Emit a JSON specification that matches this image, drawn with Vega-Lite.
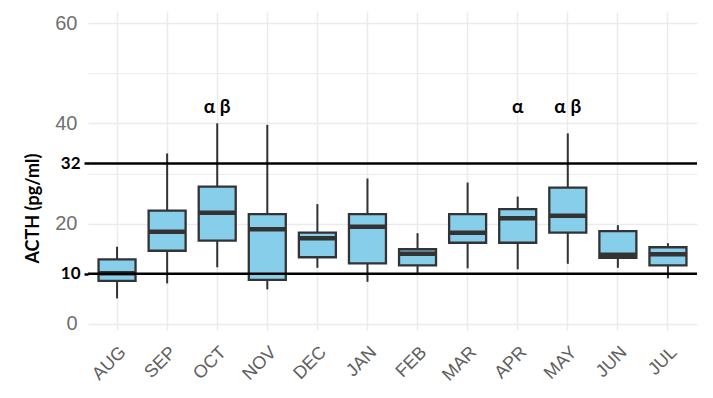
{
  "$schema": "https://vega.github.io/schema/vega-lite/v6.json",
  "width": 609,
  "height": 318,
  "autosize": {"type": "none"},
  "padding": {"left": 88, "top": 12, "right": 16, "bottom": 68},
  "background": "white",
  "config": {"view": {"stroke": null}},
  "datasets": {
    "boxes": [
      {"month": "AUG", "lower": 5.1, "q1": 8.6, "median": 10.1, "q3": 12.9, "upper": 15.4},
      {"month": "SEP", "lower": 8.1, "q1": 14.6, "median": 18.4, "q3": 22.6, "upper": 34.0},
      {"month": "OCT", "lower": 11.3, "q1": 16.6, "median": 22.2, "q3": 27.4, "upper": 40.0},
      {"month": "NOV", "lower": 6.9, "q1": 8.8, "median": 18.9, "q3": 21.9, "upper": 39.7},
      {"month": "DEC", "lower": 11.2, "q1": 13.3, "median": 17.1, "q3": 18.2, "upper": 23.9},
      {"month": "JAN", "lower": 8.4, "q1": 12.1, "median": 19.4, "q3": 21.9, "upper": 29.0},
      {"month": "FEB", "lower": 9.8, "q1": 11.7, "median": 14.0, "q3": 14.9, "upper": 18.1},
      {"month": "MAR", "lower": 11.1, "q1": 16.2, "median": 18.2, "q3": 21.9, "upper": 28.2},
      {"month": "APR", "lower": 10.9, "q1": 16.2, "median": 21.1, "q3": 22.9, "upper": 25.4},
      {"month": "MAY", "lower": 12.0, "q1": 18.2, "median": 21.6, "q3": 27.2, "upper": 38.0},
      {"month": "JUN", "lower": 11.2, "q1": 13.2, "median": 13.8, "q3": 18.5, "upper": 19.7},
      {"month": "JUL", "lower": 9.1, "q1": 11.7, "median": 13.9, "q3": 15.3, "upper": 16.1}
    ],
    "notes": [
      {"month": "OCT", "label": "α β", "v": 42.1},
      {"month": "APR", "label": "α", "v": 42.1},
      {"month": "MAY", "label": "α β", "v": 42.1}
    ],
    "refs": [{"v": 10}, {"v": 32}]
  },
  "layer": [
    {
      "data": {"name": "boxes"},
      "mark": {"type": "rule", "color": "#333333", "strokeWidth": 2},
      "encoding": {
        "x": {
          "field": "month", "type": "nominal",
          "sort": ["AUG","SEP","OCT","NOV","DEC","JAN","FEB","MAR","APR","MAY","JUN","JUL"],
          "scale": {"paddingInner": 0, "paddingOuter": 0.08},
          "axis": {
            "title": null, "labelAngle": -45, "labelAlign": "right", "labelBaseline": "top",
            "labelFont": "Liberation Sans", "labelFontSize": 18, "labelColor": "#606060",
            "labelPadding": 13, "ticks": false, "domain": false, "grid": true,
            "gridColor": "#ebebeb", "gridWidth": 1.5, "bandPosition": 0.5
          }
        },
        "y": {
          "field": "lower", "type": "quantitative", "title": "ACTH (pg/ml)",
          "scale": {"domain": [-1.2, 62.2], "nice": false, "zero": false},
          "axis": {
            "values": [0, 10, 20, 30, 32, 40, 50, 60],
            "labelExpr": "datum.value == 30 || datum.value == 50 ? '' : datum.label",
            "domain": false,
            "tickSize": 4,
            "labelPadding": {"condition": {"test": "datum.value == 10 || datum.value == 32", "value": 4}, "value": 7},
            "tickWidth": 2.5,
            "tickColor": {"condition": {"test": "datum.value == 10 || datum.value == 32", "value": "black"}, "value": "transparent"},
            "labelColor": {"condition": {"test": "datum.value == 10 || datum.value == 32", "value": "black"}, "value": "#707070"},
            "labelFont": {"condition": {"test": "datum.value == 10 || datum.value == 32", "value": "Lato"}, "value": "Liberation Sans"},
            "labelFontWeight": {"condition": {"test": "datum.value == 10 || datum.value == 32", "value": "bold"}, "value": "normal"},
            "labelFontSize": {"condition": {"test": "datum.value == 10 || datum.value == 32", "value": 17}, "value": 20},
            "gridColor": {"condition": {"test": "datum.value == 32", "value": "transparent"}, "value": "#ebebeb"},
            "gridWidth": {"condition": {"test": "datum.value == 10 || datum.value == 30 || datum.value == 50", "value": 1}, "value": 1.5},
            "titleFont": "Lato", "titleFontWeight": "bold", "titleFontSize": 18, "titleColor": "black",
            "titleX": -55, "titleY": 196, "titleAlign": "center", "titleBaseline": "middle", "titleAngle": -90
          }
        },
        "y2": {"field": "upper"}
      }
    },
    {
      "data": {"name": "boxes"},
      "mark": {"type": "bar", "size": 37, "fill": "#87ceeb", "stroke": "#333333", "strokeWidth": 2.3},
      "encoding": {
        "x": {"field": "month", "type": "nominal", "sort": ["AUG","SEP","OCT","NOV","DEC","JAN","FEB","MAR","APR","MAY","JUN","JUL"]},
        "y": {"field": "q1", "type": "quantitative", "title": "ACTH (pg/ml)"},
        "y2": {"field": "q3"}
      }
    },
    {
      "data": {"name": "boxes"},
      "mark": {"type": "tick", "size": 37, "thickness": 4.5, "color": "#333333", "opacity": 1},
      "encoding": {
        "x": {"field": "month", "type": "nominal", "sort": ["AUG","SEP","OCT","NOV","DEC","JAN","FEB","MAR","APR","MAY","JUN","JUL"]},
        "y": {"field": "median", "type": "quantitative", "title": "ACTH (pg/ml)"}
      }
    },
    {
      "data": {"name": "refs"},
      "mark": {"type": "rule", "color": "black", "strokeWidth": 2.5},
      "encoding": {
        "y": {"field": "v", "type": "quantitative", "title": "ACTH (pg/ml)"}
      }
    },
    {
      "data": {"name": "notes"},
      "mark": {"type": "text", "font": "Lato", "fontWeight": "bold", "fontSize": 19, "color": "black", "align": "center", "baseline": "alphabetic"},
      "encoding": {
        "x": {"field": "month", "type": "nominal", "sort": ["AUG","SEP","OCT","NOV","DEC","JAN","FEB","MAR","APR","MAY","JUN","JUL"]},
        "y": {"field": "v", "type": "quantitative", "title": "ACTH (pg/ml)"},
        "text": {"field": "label"}
      }
    }
  ]
}
